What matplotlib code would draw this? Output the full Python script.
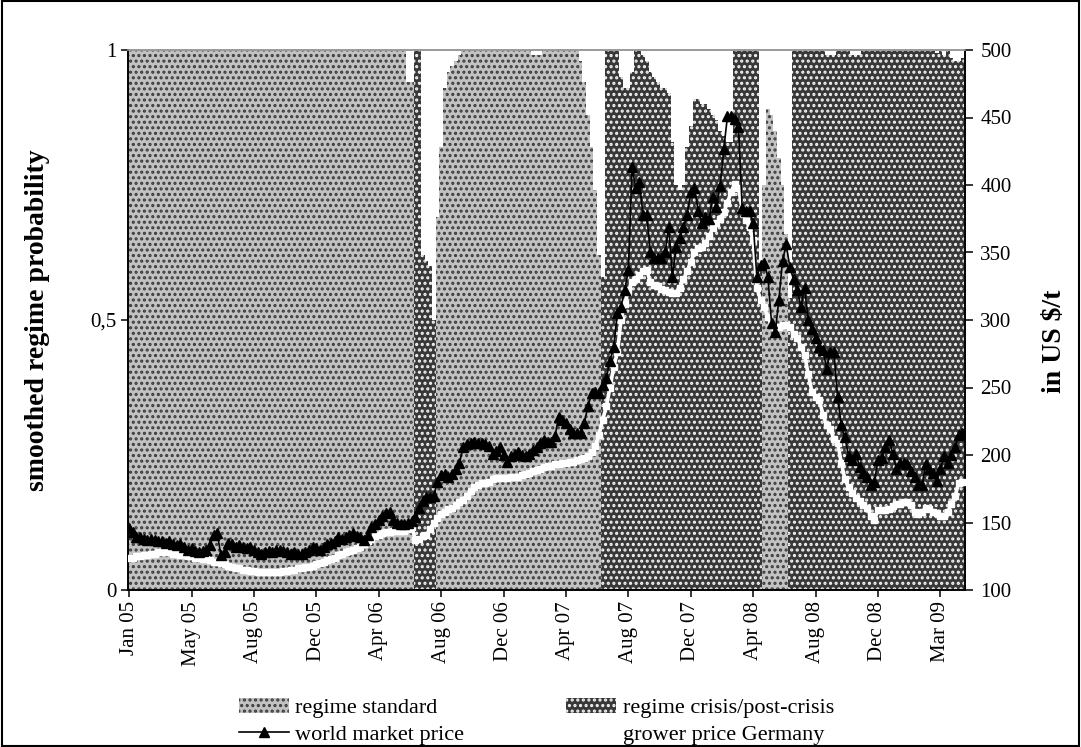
import numpy as np
import matplotlib
matplotlib.use("Agg")
import matplotlib.pyplot as plt
from matplotlib.patches import Patch, Rectangle
from matplotlib.lines import Line2D

plt.rcParams['font.family'] = ['Liberation Serif', 'DejaVu Serif']
plt.rcParams['hatch.linewidth'] = 1.5

# ---------------- data (weekly, Jan 2005 .. Apr 2009) ----------------
tick_labels = ['Jan 05', 'May 05', 'Aug 05', 'Dec 05', 'Apr 06', 'Aug 06', 'Dec 06',
               'Apr 07', 'Aug 07', 'Dec 07', 'Apr 08', 'Aug 08', 'Dec 08', 'Mar 09']

# visible smoothed probability of the standard regime (light area)
p_standard = [
    1, 1, 1, 1, 1, 1, 1, 1, 1, 1, 1, 1, 1, 1, 1, 1, 1, 1, 1, 1,
    1, 1, 1, 1, 1, 1, 1, 1, 1, 1, 1, 1, 1, 1, 1, 1, 1, 1, 1, 1,
    1, 1, 1, 1, 1, 1, 1, 1, 1, 1, 1, 1, 1, 1, 1, 1, 1, 1, 1, 1,
    1, 1, 1, 1, 1, 1, 1, 1, 1, 1, 1, 1, 1, 1, 1, 1, .94, .94, 0, 0,
    0, 0, 0, 0, .69, .82, .93, .96, .97, .98, .99, 1, 1, 1, 1, 1, 1, 1, 1, 1,
    1, 1, 1, 1, 1, 1, 1, 1, 1, 1, .99, .99, .99, 1, 1, 1, 1, 1, 1, 1,
    1, 1, 1, .98, .94, .88, .82, .74, .62, 0, 0, 0, 0, 0, 0, 0, 0, 0, 0, 0,
    0, 0, 0, 0, 0, 0, 0, 0, 0, 0, 0, 0, 0, 0, 0, 0, 0, 0, 0, 0,
    0, 0, 0, 0, 0, 0, 0, 0, 0, 0, 0, 0, 0, .75, .89, .88, .85, .80, .75, .66,
    0, 0, 0, 0, 0, 0, 0, 0, 0, 0, 0, 0, 0, 0, 0, 0, 0, 0, 0, 0,
    0, 0, 0, 0, 0, 0, 0, 0, 0, 0, 0, 0, 0, 0, 0, 0, 0, 0, 0, 0,
    0, 0, 0, 0, 0, 0, 0, 0,
]

# visible smoothed probability of the crisis/post-crisis regime (dark area)
p_crisis = [
    0, 0, 0, 0, 0, 0, 0, 0, 0, 0, 0, 0, 0, 0, 0, 0, 0, 0, 0, 0,
    0, 0, 0, 0, 0, 0, 0, 0, 0, 0, 0, 0, 0, 0, 0, 0, 0, 0, 0, 0,
    0, 0, 0, 0, 0, 0, 0, 0, 0, 0, 0, 0, 0, 0, 0, 0, 0, 0, 0, 0,
    0, 0, 0, 0, 0, 0, 0, 0, 0, 0, 0, 0, 0, 0, 0, 0, 0, 0, 1, 1,
    .62, .61, .60, .50, 0, 0, 0, 0, 0, 0, 0, 0, 0, 0, 0, 0, 0, 0, 0, 0,
    0, 0, 0, 0, 0, 0, 0, 0, 0, 0, 0, 0, 0, 0, 0, 0, 0, 0, 0, 0,
    0, 0, 0, 0, 0, 0, 0, 0, 0, .58, 1, 1, 1, 1, .95, .93, .93, .96, 1, 1,
    .99, .98, .96, .95, .94, .93, .93, .92, .83, .75, .74, .75, .82, .86, .91, .91, .90, .90, .89, .88,
    .87, .85, .84, .83, .83, 1, 1, 1, 1, 1, 1, 1, .60, 0, 0, 0, 0, 0, 0, 0,
    .54, 1, 1, 1, 1, 1, 1, 1, 1, 1, .99, .99, .99, 1, 1, 1, 1, .99, .99, .99,
    1, 1, 1, 1, 1, 1, 1, 1, 1, 1, 1, 1, 1, 1, 1, 1, 1, 1, 1, 1,
    .995, 1, .99, 1, .985, .98, .98, .985,
]

# world market price (US $/t)
world_price = [
    146, 143, 139, 139, 138, 137, 138, 137, 136, 136,
    135, 136, 134, 133, 134, 132, 130, 131, 129, 128,
    129, 130, 133, 141, 142, 126, 128, 135, 134, 132,
    133, 132, 131, 132, 130, 128, 127, 128, 129, 128,
    130, 130, 129, 128, 127, 128, 127, 127, 128, 130,
    132, 131, 130, 132, 134, 135, 136, 139, 138, 139,
    141, 142, 140, 139, 137, 141, 147, 149, 152, 155,
    157, 158, 152, 150, 149, 149, 150, 151, 154, 161,
    166, 169, 169, 170, 180, 185, 186, 184, 186, 190,
    194, 206, 208, 209, 210, 209, 209, 208, 207, 201,
    203, 206, 200, 195, 199, 201, 202, 200, 199, 201,
    204, 206, 209, 211, 210, 210, 214, 228, 226, 224,
    219, 216, 216, 216, 224, 236, 246, 247, 246, 252,
    257, 270, 280, 305, 310, 322, 337, 413, 398, 402,
    378, 378, 350, 346, 346, 346, 350, 369, 332, 354,
    361, 369, 378, 395, 398, 381, 372, 376, 375, 391,
    384, 399, 427, 451, 451, 449, 443, 383, 381, 381,
    372, 332, 341, 342, 332, 298, 291, 315, 344, 356,
    339, 330, 322, 310, 324, 300, 293, 287, 280, 278,
    264, 276, 276, 243, 222, 213, 199, 196, 201, 191,
    187, 184, 178, 180, 196, 198, 206, 211, 201, 190,
    194, 194, 193, 188, 184, 178, 178, 193, 190, 187,
    181, 190, 199, 194, 200, 206, 215, 216,
]

# grower price Germany (US $/t)
grower_price = [
    124, 124, 125, 125, 126, 126, 127, 127, 128, 128,
    128, 128, 127, 127, 126, 126, 125, 125, 124, 124,
    123, 123, 122, 121, 121, 120, 119, 118, 117, 116,
    116, 115, 115, 114, 114, 113, 113, 113, 113, 113,
    113, 113, 114, 114, 115, 115, 116, 116, 117, 117,
    118, 119, 120, 121, 122, 123, 124, 126, 127, 128,
    129, 130, 131, 132, 134, 136, 138, 140, 141, 142,
    143, 143, 144, 144, 144, 144, 145, 147, 137, 138,
    140, 141, 145, 150, 153, 156, 158, 160, 161, 163,
    165, 167, 170, 173, 176, 178, 179, 179, 180, 182,
    183, 183, 183, 183, 184, 184, 184, 185, 186, 187,
    188, 189, 190, 191, 192, 192, 193, 193, 194, 194,
    195, 195, 196, 197, 198, 199, 202, 207, 215, 226,
    236, 250, 265, 276, 300, 312, 322, 328, 330, 333,
    336, 337, 328, 326, 325, 323, 322, 321, 320, 320,
    324, 330, 336, 343, 350, 353, 354, 357, 362, 368,
    372, 375, 380, 387, 395, 401, 398, 382, 374, 369,
    359, 324, 315, 310, 302, 296, 295, 295, 296, 296,
    295, 290, 287, 280, 274, 260, 247, 243, 241, 230,
    222, 219, 212, 209, 194, 182, 176, 172, 168, 166,
    163, 161, 155, 152, 159, 159, 159, 160, 162, 164,
    164, 165, 165, 163, 158, 156, 158, 161, 160, 158,
    157, 155, 155, 158, 164, 170, 179, 180,
]

# ---------------- figure ----------------
W, H = 1081, 747
fig = plt.figure(figsize=(W / 100, H / 100), dpi=100)
L, R, T, B = 128, 965, 50, 590
ax = fig.add_axes([L / W, 1 - B / H, (R - L) / W, (B - T) / H])

n = len(p_standard)
weeks = np.arange(n)
edges = np.arange(n + 1) - 0.5

light_face, light_hatch = '#c2c2c2', '#3c3c3c'
dark_face, dark_hatch = '#383838', '#f4f4f4'

ax.stairs(p_standard, edges, baseline=0, fill=True, facecolor=light_face,
          edgecolor=light_hatch, hatch='...', linewidth=0, zorder=1)
ax.stairs(p_crisis, edges, baseline=0, fill=True, facecolor=dark_face,
          edgecolor=dark_hatch, hatch='...', linewidth=0, zorder=1)

ax.set_xlim(-0.3, 227.7)
ax.set_ylim(0, 1)
ax.set_yticks([0, 0.5, 1])
ax.set_yticklabels(['0', '0,5', '1'])
ax.set_xticks(weeks[::17])
ax.set_xticklabels(tick_labels, rotation=90)

ax2 = ax.twinx()
ax2.set_ylim(100, 500)
ax2.set_yticks(np.arange(100, 501, 50))
ax2.plot(weeks, grower_price, color='white', lw=2.6, marker='s', ms=5,
         mec='white', mfc='white', zorder=3)
ax2.plot(weeks, world_price, color='black', lw=1.2, marker='^', ms=7,
         mec='black', mfc='black', zorder=4)

for a in (ax, ax2):
    for s in ('left', 'right', 'bottom'):
        a.spines[s].set_color('black')
        a.spines[s].set_linewidth(1.2)
    a.spines['top'].set_color('#9a9a9a')
    a.spines['top'].set_linewidth(1.2)

ax.tick_params(axis='both', direction='out', length=5, width=1.1, labelsize=15, pad=3)
ax2.tick_params(axis='y', direction='out', length=6, width=1.1, labelsize=15, pad=5)
ax.tick_params(axis='x', pad=3)

ax.set_ylabel('smoothed regime probability', fontsize=20, fontweight='bold')
ax.yaxis.set_label_coords(-0.093, 0.5)
ax2.set_ylabel('in US $/t', fontsize=20, fontweight='bold')
ax2.yaxis.set_label_coords(1.092, 0.46)

# legend
h_std = Patch(facecolor=light_face, edgecolor=light_hatch, hatch='...', linewidth=0)
h_cri = Patch(facecolor=dark_face, edgecolor=dark_hatch, hatch='...', linewidth=0)
h_wld = Line2D([], [], color='black', lw=1.2, marker='^', ms=7)
h_grw = Line2D([], [], color='white', lw=2.6, marker='s', ms=5, mfc='white', mec='white')
fig.legend(handles=[h_std, h_wld, h_cri, h_grw],
           labels=['regime standard', 'world market price',
                   'regime crisis/post-crisis', 'grower price Germany'],
           ncol=2, loc='upper left', bbox_to_anchor=(239 / W, 1 - 698 / H),
           frameon=False, fontsize=16, handlelength=2.25, handleheight=0.65,
           handletextpad=0.28, labelspacing=0.28, columnspacing=4.6,
           borderpad=0, borderaxespad=0)

fig.patches.append(Rectangle((0.0015, 0.002), 0.997, 0.996, transform=fig.transFigure,
                             fill=False, edgecolor='black', linewidth=1.5))

fig.savefig('out.png', dpi=100)
